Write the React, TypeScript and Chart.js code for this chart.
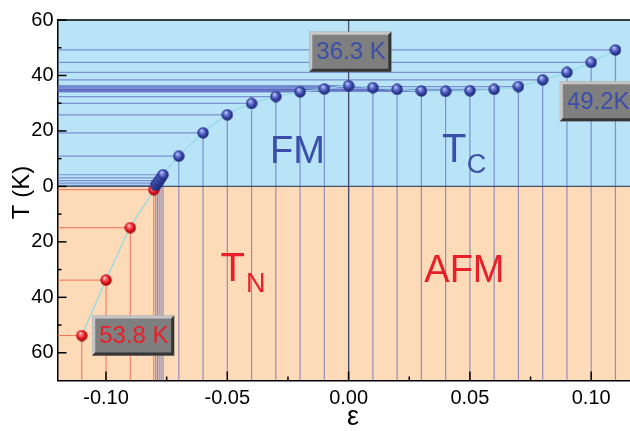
import React, { useEffect, useRef } from "react";
import { Chart, registerables } from "chart.js";

Chart.register(...registerables);

// ---------- data ----------
const fmStrain = [-0.0795, -0.0788, -0.0781, -0.0773, -0.0765, -0.07, -0.06, -0.05, -0.04, -0.03, -0.02, -0.01, 0.0, 0.01, 0.02, 0.03, 0.04, 0.05, 0.06, 0.07, 0.08, 0.09, 0.1, 0.11];
const fmTc = [0.4, 1.2, 2.1, 3.1, 4.2, 10.9, 19.3, 25.8, 29.9, 32.4, 34.1, 35.1, 36.3, 35.6, 35.0, 34.4, 34.3, 34.5, 35.0, 36.0, 38.4, 41.1, 44.7, 49.2];
const afmStrain = [-0.11, -0.1, -0.09, -0.0803];
const afmTn = [53.8, 33.8, 14.9, 1.2]; // plotted downward (negative axis)

const xTickValues = [-0.1, -0.05, 0, 0.05, 0.1];
const yTickValues = [-60, -40, -20, 0, 20, 40, 60];

const boxTexts = ["36.3 K", "49.2K", "53.8 K"];
const regionTexts = ["FM", "AFM"];

// ---------- styles / placement ----------
const BLUE_BG = "rgb(185,227,247)";
const PEACH_BG = "rgb(253,219,185)";
const BLUE_TXT = "rgb(58,78,170)";
const RED_TXT = "rgb(232,30,40)";
const FONT = "'Liberation Sans', Arial, sans-serif";

const boxPlacement = [
  { x: -0.0162, y: 55.8, color: BLUE_TXT },
  { x: 0.0871, y: 37.9, color: BLUE_TXT },
  { x: -0.1057, y: -46.6, color: RED_TXT },
];

function makeBall(size: number, hi: string, light: string, mid: string, dark: string) {
  const cv = document.createElement("canvas");
  cv.width = size;
  cv.height = size;
  const c = cv.getContext("2d")!;
  const g = c.createRadialGradient(size * 0.36, size * 0.3, 0, size * 0.5, size * 0.5, size * 0.55);
  g.addColorStop(0, hi);
  g.addColorStop(0.18, light);
  g.addColorStop(0.6, mid);
  g.addColorStop(1, dark);
  c.fillStyle = g;
  c.beginPath();
  c.arc(size / 2, size / 2, size / 2 - 0.3, 0, Math.PI * 2);
  c.fill();
  return cv;
}

function drawBox(ctx: CanvasRenderingContext2D, x: number, y: number, w: number, h: number, text: string, color: string) {
  const b = 3;
  ctx.fillStyle = "#7f7f7f";
  ctx.fillRect(x, y, w, h);
  ctx.fillStyle = "#c6c6c6";
  ctx.beginPath();
  ctx.moveTo(x, y);
  ctx.lineTo(x + w, y);
  ctx.lineTo(x + w - b, y + b);
  ctx.lineTo(x + b, y + b);
  ctx.lineTo(x + b, y + h - b);
  ctx.lineTo(x, y + h);
  ctx.closePath();
  ctx.fill();
  ctx.fillStyle = "#353535";
  ctx.beginPath();
  ctx.moveTo(x + w, y);
  ctx.lineTo(x + w, y + h);
  ctx.lineTo(x, y + h);
  ctx.lineTo(x + b, y + h - b);
  ctx.lineTo(x + w - b, y + h - b);
  ctx.lineTo(x + w - b, y + b);
  ctx.closePath();
  ctx.fill();
  ctx.fillStyle = color;
  ctx.font = `24px ${FONT}`;
  ctx.textAlign = "left";
  ctx.textBaseline = "middle";
  ctx.fillText(text, x + 7, y + h / 2 + 1);
}

const phasePlugin = {
  id: "phase",
  beforeDraw(chart: any) {
    const { ctx, chartArea: a, scales } = chart;
    const y0 = scales.y.getPixelForValue(0);
    ctx.save();
    ctx.fillStyle = BLUE_BG;
    ctx.fillRect(a.left, a.top, a.right - a.left, y0 - a.top);
    ctx.fillStyle = PEACH_BG;
    ctx.fillRect(a.left, y0, a.right - a.left, a.bottom - y0);
    ctx.restore();
  },
  beforeDatasetsDraw(chart: any) {
    const { ctx, chartArea: a, scales } = chart;
    const { x, y } = scales;
    ctx.save();
    // red drop lines
    ctx.strokeStyle = "rgba(240,90,70,0.85)";
    ctx.lineWidth = 1;
    afmStrain.forEach((sx, i) => {
      const px = x.getPixelForValue(sx);
      const py = y.getPixelForValue(-afmTn[i]);
      ctx.beginPath();
      ctx.moveTo(a.left, py);
      ctx.lineTo(px, py);
      ctx.moveTo(px, py);
      ctx.lineTo(px, a.bottom);
      ctx.stroke();
    });
    // blue drop lines
    ctx.strokeStyle = "rgba(80,90,185,0.6)";
    ctx.lineWidth = 1.2;
    fmStrain.forEach((sx, i) => {
      const px = x.getPixelForValue(sx);
      const py = y.getPixelForValue(fmTc[i]);
      ctx.beginPath();
      ctx.moveTo(a.left, py);
      ctx.lineTo(px, py);
      ctx.moveTo(px, py);
      ctx.lineTo(px, a.bottom);
      ctx.stroke();
    });
    // zero lines
    ctx.strokeStyle = "rgb(70,80,110)";
    ctx.lineWidth = 1.3;
    const x0 = x.getPixelForValue(0);
    const y0 = y.getPixelForValue(0);
    ctx.beginPath();
    ctx.moveTo(x0, a.top);
    ctx.lineTo(x0, a.bottom);
    ctx.moveTo(a.left, y0);
    ctx.lineTo(a.right, y0);
    ctx.stroke();
    ctx.restore();
  },
  afterDraw(chart: any) {
    const { ctx, chartArea: a, scales } = chart;
    const { x, y } = scales;
    ctx.save();
    // frame top line
    ctx.strokeStyle = "#000";
    ctx.lineWidth = 1.5;
    ctx.beginPath();
    ctx.moveTo(a.left, a.top);
    ctx.lineTo(a.right, a.top);
    ctx.stroke();
    // inward ticks
    ctx.lineWidth = 1.5;
    for (let v = -0.1; v <= 0.1001; v += 0.025) {
      const px = x.getPixelForValue(v);
      const major = Math.abs(Math.round(v / 0.05) * 0.05 - v) < 1e-6;
      ctx.beginPath();
      ctx.moveTo(px, a.bottom);
      ctx.lineTo(px, a.bottom - (major ? 9 : 4));
      ctx.stroke();
    }
    for (let v = -60; v <= 60; v += 10) {
      const py = y.getPixelForValue(v);
      const major = v % 20 === 0;
      ctx.beginPath();
      ctx.moveTo(a.left, py);
      ctx.lineTo(a.left + (major ? 9 : 4), py);
      ctx.stroke();
    }
    // boxes
    boxTexts.forEach((t, i) => {
      const p = boxPlacement[i];
      drawBox(ctx, x.getPixelForValue(p.x), y.getPixelForValue(p.y), 82, 40, t, p.color);
    });
    // region labels
    ctx.textAlign = "left";
    ctx.textBaseline = "alphabetic";
    ctx.fillStyle = BLUE_TXT;
    ctx.font = `38px ${FONT}`;
    ctx.fillText(regionTexts[0], x.getPixelForValue(-0.0324), y.getPixelForValue(8.5));
    ctx.font = `40px ${FONT}`;
    ctx.fillText("T", x.getPixelForValue(0.0385), y.getPixelForValue(8.8));
    ctx.font = `27px ${FONT}`;
    ctx.fillText("C", x.getPixelForValue(0.0487), y.getPixelForValue(4.9));
    ctx.fillStyle = RED_TXT;
    ctx.font = `38px ${FONT}`;
    ctx.fillText(regionTexts[1], x.getPixelForValue(0.0312), y.getPixelForValue(-34.6));
    ctx.font = `40px ${FONT}`;
    ctx.fillText("T", x.getPixelForValue(-0.0528), y.getPixelForValue(-34.2));
    ctx.font = `27px ${FONT}`;
    ctx.fillText("N", x.getPixelForValue(-0.0423), y.getPixelForValue(-38));
    // axis titles
    ctx.fillStyle = "#000";
    ctx.font = `24px ${FONT}`;
    ctx.textAlign = "center";
    ctx.textBaseline = "middle";
    ctx.save();
    ctx.translate(22.5, 192.5);
    ctx.rotate(-Math.PI / 2);
    ctx.fillText("T (K)", 0, 0);
    ctx.restore();
    ctx.font = `27px ${FONT}`;
    ctx.fillText("ε", 353, 418);
    ctx.restore();
  },
};

export default function App() {
  const ref = useRef<HTMLCanvasElement | null>(null);
  useEffect(() => {
    document.body.style.margin = "0";
    const blueBall = makeBall(12, "#eef0ff", "#8f9be6", "#3442a6", "#141a5a");
    const redBall = makeBall(12, "#fff0f0", "#ff8a8a", "#e4121e", "#7a0006");
    const curve = [
      ...afmStrain.map((sx, i) => ({ x: sx, y: -afmTn[i] })),
      ...fmStrain.map((sx, i) => ({ x: sx, y: fmTc[i] })),
    ].sort((p, q) => p.x - q.x);
    const chart = new Chart(ref.current!, {
      type: "scatter",
      data: {
        datasets: [
          {
            data: fmStrain.map((sx, i) => ({ x: sx, y: fmTc[i] })),
            pointStyle: blueBall as any,
            pointRadius: 6,
          },
          {
            data: afmStrain.map((sx, i) => ({ x: sx, y: -afmTn[i] })),
            pointStyle: redBall as any,
            pointRadius: 6,
          },
          {
            data: curve,
            showLine: true,
            borderColor: "rgb(150,218,228)",
            borderWidth: 1.3,
            pointRadius: 0,
            cubicInterpolationMode: "monotone",
          } as any,
        ],
      },
      options: {
        responsive: false,
        animation: false,
        events: [],
        layout: { autoPadding: false, padding: { top: 20, right: 0, left: 0, bottom: 0 } },
        plugins: { legend: { display: false }, tooltip: { enabled: false } },
        scales: {
          x: {
            type: "linear",
            min: -0.12,
            max: 0.116,
            grid: { display: false, drawTicks: false },
            border: { display: true, color: "#000", width: 1.5 },
            afterBuildTicks: (s: any) => {
              s.ticks = xTickValues.map((v) => ({ value: v }));
            },
            afterFit: (s: any) => {
              s.height = 50.5;
              s.paddingLeft = 0;
              s.paddingRight = 0;
            },
            ticks: {
              color: "#000",
              font: { family: FONT, size: 20 },
              padding: 6,
              maxRotation: 0,
              callback: (v: any) => Number(v).toFixed(2),
            },
          },
          y: {
            type: "linear",
            min: -70,
            max: 60,
            grid: { display: false, drawTicks: false },
            border: { display: true, color: "#000", width: 1.5 },
            afterBuildTicks: (s: any) => {
              s.ticks = yTickValues.map((v) => ({ value: v }));
            },
            afterFit: (s: any) => {
              s.width = 57.5;
              s.paddingTop = 0;
              s.paddingBottom = 0;
            },
            ticks: {
              color: "#000",
              font: { family: FONT, size: 20 },
              padding: 4,
              callback: (v: any) => String(Math.abs(Number(v))),
            },
          },
        },
      },
      plugins: [phasePlugin],
    });
    return () => chart.destroy();
  }, []);
  return (
    <div style={{ position: "fixed", left: 0, top: 0, width: 630, height: 431, background: "#fff" }}>
      <canvas ref={ref} width={630} height={431} />
    </div>
  );
}
